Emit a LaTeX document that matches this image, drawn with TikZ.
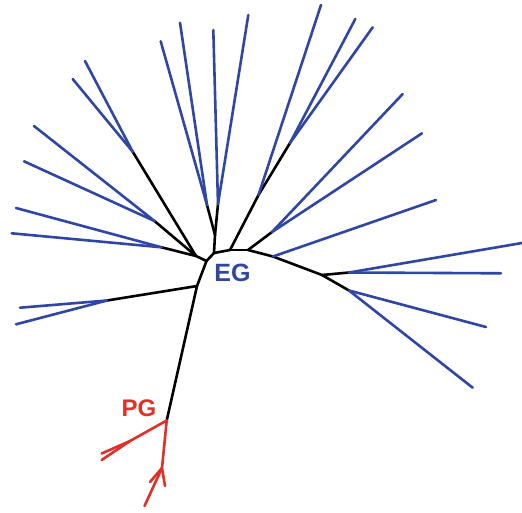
\documentclass[tikz,border=0pt]{standalone}
\usepackage{fontspec}
\setmainfont{Liberation Sans}
\definecolor{treeblue}{RGB}{48,70,165}
\definecolor{treered}{RGB}{226,48,40}
\begin{document}
\begin{tikzpicture}[x=1pt,y=-1pt,
  br/.style={line width=2.6pt,line cap=round},
  blk/.style={br,draw=black},
  blu/.style={br,draw=treeblue},
  rd/.style={br,draw=treered},
  lbl/.style={font=\bfseries\fontsize{25}{25}\selectfont,inner sep=0pt}]
\useasboundingbox (0,0) rectangle (522,512);
% internal nodes
\coordinate (A) at (206.5,261);
\coordinate (B) at (196,256);
\coordinate (P1) at (132.7,151.7);
\coordinate (P2) at (154.5,221);
\coordinate (P3) at (161.5,247.3);
\coordinate (C) at (215,235);
\coordinate (Q1) at (207,205);
\coordinate (Q2) at (218,204);
\coordinate (D) at (214,253);
\coordinate (E0) at (230,250);
\coordinate (E) at (258.5,195);
\coordinate (F) at (290,143);
\coordinate (D2) at (248,250);
\coordinate (G) at (272,232);
\coordinate (H) at (273,256.5);
\coordinate (I0) at (322,275);
\coordinate (I) at (349,272.5);
\coordinate (J) at (349,290.5);
\coordinate (K) at (197,286);
\coordinate (K2) at (107,300.5);
\coordinate (L) at (166.7,420.5);
\coordinate (M) at (130,441);
\coordinate (N) at (162,468);
% leaves
\coordinate (l1) at (85,61);
\coordinate (l2) at (72.7,79);
\coordinate (l3) at (34,126);
\coordinate (l4) at (24,161.3);
\coordinate (l5) at (16,208);
\coordinate (l6) at (11.7,233.3);
\coordinate (l7) at (160.7,41.3);
\coordinate (l8) at (180,22.7);
\coordinate (l9) at (213.3,30);
\coordinate (l10) at (248.3,15);
\coordinate (l11) at (321,5);
\coordinate (l12) at (355.3,19);
\coordinate (l13) at (372.7,27.3);
\coordinate (l14) at (402.7,94);
\coordinate (l15) at (422,133.3);
\coordinate (l16) at (436,200);
\coordinate (l17) at (522,243);
\coordinate (l18) at (501,273.3);
\coordinate (l19) at (486,327);
\coordinate (l20) at (472.7,387.7);
\coordinate (l21) at (20,307.7);
\coordinate (l22) at (16,324.3);
\coordinate (r1) at (101.7,453.5);
\coordinate (r2) at (101.7,460);
\coordinate (r3) at (165,486);
\coordinate (r4) at (150,482);
\coordinate (r5) at (144.5,506);
% black internal branches
\draw[blk] (P1) -- (B);
\draw[blk] (P2) -- (B);
\draw[blk] (P3) -- (B);
\draw[blk] (B) -- (A);
\draw[blk] (Q1) -- (C);
\draw[blk] (Q2) -- (C);
\draw[blk] (C) -- (D);
\draw[blk] (A) -- (D);
\draw[blk] (D) -- (E0);
\draw[blk] (E0) -- (D2);
\draw[blk] (E0) -- (E);
\draw[blk] (E) -- (F);
\draw[blk] (D2) -- (G);
\draw[blk] (D2) -- (H);
\draw[blk] (H) -- (I0);
\draw[blk] (I0) -- (I);
\draw[blk] (I0) -- (J);
\draw[blk] (A) -- (K);
\draw[blk] (K) -- (K2);
\draw[blk] (K) -- (L);
% blue leaves
\draw[blu] (P1) -- (l1);
\draw[blu] (P1) -- (l2);
\draw[blu] (P2) -- (l3);
\draw[blu] (P2) -- (l4);
\draw[blu] (P3) -- (l5);
\draw[blu] (P3) -- (l6);
\draw[blu] (Q1) -- (l7);
\draw[blu] (Q1) -- (l8);
\draw[blu] (Q2) -- (l9);
\draw[blu] (Q2) -- (l10);
\draw[blu] (E) -- (l11);
\draw[blu] (F) -- (l12);
\draw[blu] (F) -- (l13);
\draw[blu] (G) -- (l14);
\draw[blu] (G) -- (l15);
\draw[blu] (H) -- (l16);
\draw[blu] (I) -- (l17);
\draw[blu] (I) -- (l18);
\draw[blu] (J) -- (l19);
\draw[blu] (J) -- (l20);
\draw[blu] (K2) -- (l21);
\draw[blu] (K2) -- (l22);
% red outgroup
\draw[rd] (L) -- (M);
\draw[rd] (L) -- (N);
\draw[rd] (M) -- (r1);
\draw[rd] (M) -- (r2);
\draw[rd] (N) -- (r3);
\draw[rd] (N) -- (r4);
\draw[rd] (N) -- (r5);
% labels
\node[lbl,text=treeblue] (eg) at (232.5,272.5) {EG};
\node[lbl,text=treered,font=\bfseries\fontsize{24}{24}\selectfont] (pg) at (139,408.7) {PG};
\end{tikzpicture}
\end{document}
